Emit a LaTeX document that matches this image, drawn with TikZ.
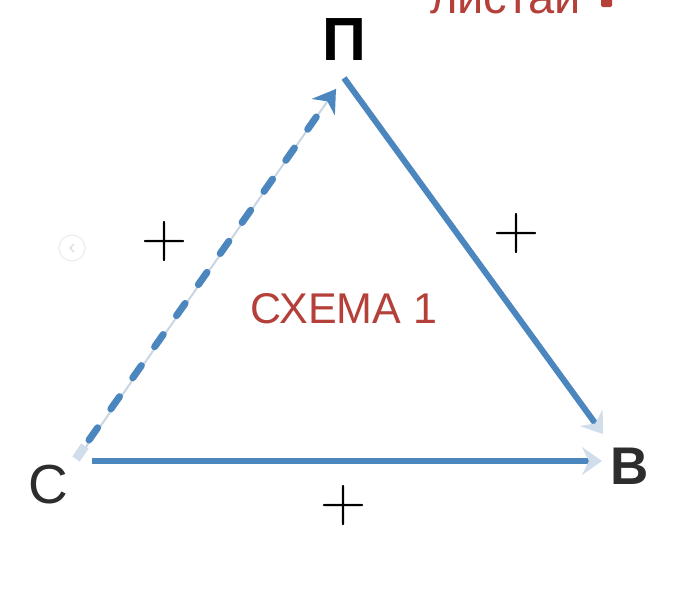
\documentclass[tikz,border=0pt]{standalone}
\usepackage{fontspec}
\setmainfont{Liberation Sans}
\newfontfamily\lmfont{Latin Modern Roman}
\usetikzlibrary{arrows.meta}
\definecolor{arrowblue}{RGB}{76,134,190}
\definecolor{paleblue}{RGB}{208,222,236}
\definecolor{thinblue}{RGB}{200,214,228}
\definecolor{schemered}{RGB}{181,64,58}
\definecolor{labelgray}{RGB}{45,45,45}
\tikzset{
  vertexlabel/.style={inner sep=0pt, text=labelgray},
  plussign/.style={inner sep=0pt, font=\lmfont\fontsize{64}{64}\selectfont, text=black},
  solidarrow/.style={draw=arrowblue, line width=6pt,
    -{Stealth[length=20pt,width=28pt,inset=7pt,color=paleblue]}},
  dashedarrow/.style={draw=arrowblue, line width=7pt, line cap=round,
    dash pattern=on 15pt off 23pt,
    -{Stealth[length=22pt,width=28pt,inset=7pt,line cap=butt,color=arrowblue]}},
}
\begin{document}
\begin{tikzpicture}[x=1pt,y=-1pt]
\useasboundingbox[fill=white] (0,0) rectangle (680,589);
\begin{scope}
\clip (0,0) rectangle (680,589);
% top-right partially visible text
\node[anchor=base west, inner sep=0pt, text=schemered,
  font=\fontsize{47}{47}\selectfont] (swipe) at (430,13) {листай};
\fill[schemered, rounded corners=1.5pt] (601,-4) rectangle (612,7);
\end{scope}

% faint navigation circle
\node[draw=black!7, line width=1.2pt, circle, minimum size=26pt, inner sep=0pt] (nav) at (72,248) {};
\draw[black!14, line width=1.2pt] ([xshift=2pt,yshift=-4pt]nav.center) -- ([xshift=-2pt]nav.center) -- ([xshift=2pt,yshift=4pt]nav.center);

% vertex labels
\node[vertexlabel, text=black, font=\bfseries\fontsize{61}{61}\selectfont] (P) at (344,40) {П};
\node[vertexlabel, font=\fontsize{55}{55}\selectfont] (C) at (48,485) {С};
\node[vertexlabel, font=\bfseries\fontsize{53}{53}\selectfont] (B) at (630,466) {В};

% arrow end points (yshift positive = upwards)
\coordinate (cDash) at ([xshift=33pt,yshift=31pt]C.center);
\coordinate (pDash) at ([xshift=-8pt,yshift=-49pt]P.center);
\coordinate (pSolid) at ([xshift=0pt,yshift=-38pt]P.center);
\coordinate (bTop) at ([xshift=-27pt,yshift=32pt]B.center);
\coordinate (cLow) at ([xshift=44pt,yshift=24pt]C.center);
\coordinate (bLow) at ([xshift=-28pt,yshift=5pt]B.center);

% dashed arrow C -> P
\draw[thinblue, line width=2pt] (cDash) -- (pDash);
\draw[paleblue, line width=9pt] ([xshift=-5pt,yshift=-5pt]cDash) -- ([xshift=4pt,yshift=8pt]cDash);
\draw[dashedarrow] ([xshift=8pt,yshift=14pt]cDash) -- (pDash);

% solid arrows
\draw[solidarrow] (pSolid) -- (bTop);
\draw[solidarrow] (cLow) -- (bLow);

% labels
\node[plussign] (plusL) at (165,242) {+};
\node[plussign] (plusR) at (517,234) {+};
\node[plussign] (plusB) at (344,506) {+};
\node[inner sep=0pt, text=schemered, font=\fontsize{43}{43}\selectfont] (title) at (344,309) {СХЕМА 1};
\end{tikzpicture}
\end{document}
